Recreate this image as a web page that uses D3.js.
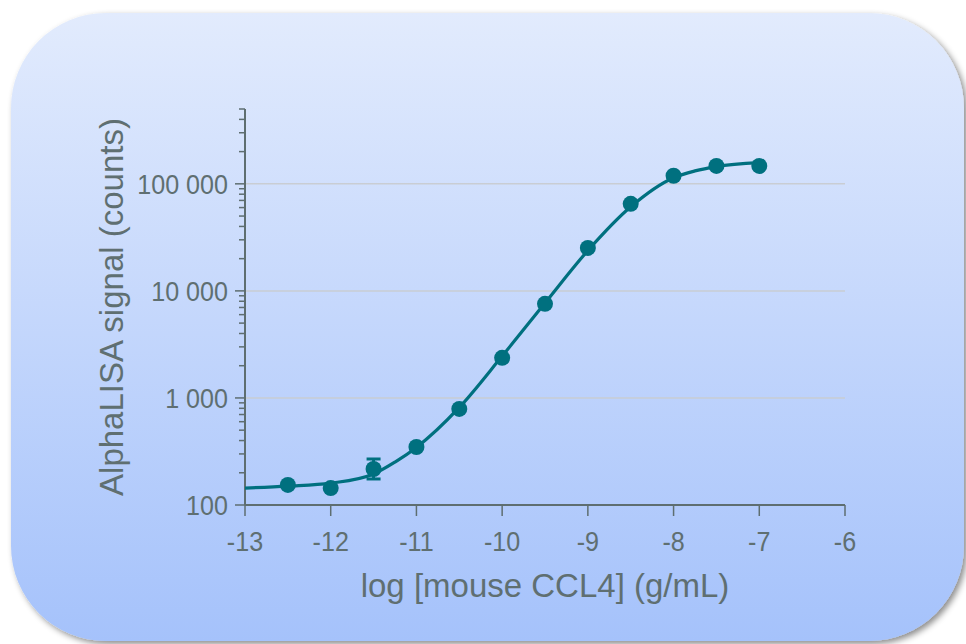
<!DOCTYPE html>
<html>
<head>
<meta charset="utf-8">
<script src="https://cdn.jsdelivr.net/npm/d3@7"></script>
<style>
  body { margin: 0; background: #fff; }
  svg { display: block; }
</style>
</head>
<body>
<div id="chart"></div>
<script>
// measured points (log conc, signal)
const logConc = [-12.5, -12, -11.5, -11, -10.5, -10, -9.5, -9, -8.5, -8, -7.5, -7];
const signal = [154, 144, 217, 348, 789, 2370, 7570, 25200, 65000, 119000, 147000, 147000];
// error bars (only visible at -11.5)
const errLow = [null, null, 175, null, null, null, null, null, null, null, null, null];
const errHigh = [null, null, 269, null, null, null, null, null, null, null, null, null];
// fitted curve
const curveX = [-13, -12.5, -12, -11.5, -11.25, -11, -10.5, -10, -9.5, -9, -8.5, -8, -7.75, -7.5, -7];
const curveY = [144, 150, 160, 195, 252, 345, 815, 2460, 7700, 23800, 61000, 114000, 132000, 145000, 158000];
const xTicks = [-13, -12, -11, -10, -9, -8, -7, -6];
const yMajor = [100, 1000, 10000, 100000];

const W = 966, H = 644;
const teal = "#00707f", axisCol = "#5e6e70", textCol = "#5f6f71";
const font = "Liberation Sans, Arial, sans-serif";

const svg = d3.select("#chart").append("svg").attr("width", W).attr("height", H);
const defs = svg.append("defs");
const grad = defs.append("linearGradient").attr("id", "bg").attr("x1", 0).attr("y1", 0).attr("x2", 0).attr("y2", 1);
grad.append("stop").attr("offset", "0%").attr("stop-color", "#e2ebfd");
grad.append("stop").attr("offset", "100%").attr("stop-color", "#a5c2fb");
const f = defs.append("filter").attr("id", "shadow").attr("x", "-5%").attr("y", "-5%").attr("width", "115%").attr("height", "115%");
f.append("feDropShadow").attr("dx", 3).attr("dy", 3).attr("stdDeviation", 3).attr("flood-color", "#000").attr("flood-opacity", 0.45);

svg.append("rect")
    .attr("x", 11).attr("y", 13).attr("width", 953).attr("height", 628)
    .attr("rx", 95).attr("ry", 95)
    .attr("fill", "url(#bg)")
    .attr("filter", "url(#shadow)");

const x = d3.scaleLinear().domain([-13, -6]).range([245, 845]);
const y = d3.scaleLog().domain([100, 500000]).range([505, 109]);

// gridlines
svg.append("g").selectAll("line").data(yMajor.slice(1)).join("line")
    .attr("x1", x(-13)).attr("x2", x(-6))
    .attr("y1", d => y(d)).attr("y2", d => y(d))
    .attr("stroke", "#c9cdd3").attr("stroke-width", 1.5);

// y axis: minor ticks
const minor = [];
for (let e = 2; e <= 5; e++) for (let m = 2; m <= 9; m++) { const v = m * Math.pow(10, e); if (v <= 500000) minor.push(v); }
const fmt = d => d3.format(",")(d).replace(/,/g, " ");

const yAxis = svg.append("g").attr("transform", `translate(${x(-13)},0)`);
yAxis.append("line").attr("x1", 0).attr("x2", 0).attr("y1", y(500000)).attr("y2", y(100))
    .attr("stroke", axisCol).attr("stroke-width", 2);
yAxis.selectAll(".mn").data(minor).join("line").attr("class", "mn")
    .attr("x1", -6).attr("x2", 0).attr("y1", d => y(d)).attr("y2", d => y(d))
    .attr("stroke", axisCol).attr("stroke-width", 1.5);
yAxis.selectAll(".mj").data(yMajor).join("line").attr("class", "mj")
    .attr("x1", -10).attr("x2", 0).attr("y1", d => y(d)).attr("y2", d => y(d))
    .attr("stroke", axisCol).attr("stroke-width", 1.5);
yAxis.selectAll("text").data(yMajor).join("text")
    .attr("transform", d => `translate(-17,${y(d)}) scale(0.93,1)`).attr("dy", "0.36em")
    .attr("text-anchor", "end")
    .attr("font-family", font).attr("font-size", 27)
    .attr("fill", textCol).text(fmt);

// x axis
const xAxis = svg.append("g").attr("transform", `translate(0,${y(100)})`);
xAxis.append("line").attr("x1", x(-13)).attr("x2", x(-6)).attr("stroke", axisCol).attr("stroke-width", 2);
xAxis.selectAll(".tk").data(xTicks).join("line").attr("class", "tk")
    .attr("x1", d => x(d)).attr("x2", d => x(d)).attr("y1", 0).attr("y2", 11)
    .attr("stroke", axisCol).attr("stroke-width", 1.5);
xAxis.selectAll("text").data(xTicks).join("text")
    .attr("transform", d => `translate(${x(d)},46) scale(0.93,1)`)
    .attr("text-anchor", "middle")
    .attr("font-family", font).attr("font-size", 27)
    .attr("fill", textCol).text(d => d);

// axis titles
svg.append("text")
    .attr("x", 545).attr("y", 597).attr("text-anchor", "middle")
    .attr("font-family", font).attr("font-size", 33)
    .attr("fill", textCol).text("log [mouse CCL4] (g/mL)");
svg.append("text")
    .attr("transform", "translate(123,307) rotate(-90)").attr("text-anchor", "middle")
    .attr("font-family", font).attr("font-size", 33)
    .attr("fill", textCol).text("AlphaLISA signal (counts)");

// fitted curve
const curveData = curveX.map((c, i) => ({ x: c, y: curveY[i] }));
svg.append("path").datum(curveData)
    .attr("fill", "none").attr("stroke", teal).attr("stroke-width", 3.2)
    .attr("d", d3.line().x(d => x(d.x)).y(d => y(d.y)).curve(d3.curveMonotoneX));

// error bars
const pts = logConc.map((c, i) => ({ x: c, y: signal[i], lo: errLow[i], hi: errHigh[i] }));
const eb = svg.append("g").selectAll("g").data(pts.filter(d => d.lo != null)).join("g")
    .attr("stroke", teal).attr("stroke-width", 3);
eb.append("line").attr("x1", d => x(d.x)).attr("x2", d => x(d.x)).attr("y1", d => y(d.lo)).attr("y2", d => y(d.hi));
eb.append("line").attr("x1", d => x(d.x) - 7).attr("x2", d => x(d.x) + 7).attr("y1", d => y(d.lo)).attr("y2", d => y(d.lo));
eb.append("line").attr("x1", d => x(d.x) - 7).attr("x2", d => x(d.x) + 7).attr("y1", d => y(d.hi)).attr("y2", d => y(d.hi));

// points
svg.append("g").selectAll("circle").data(pts).join("circle")
    .attr("cx", d => x(d.x)).attr("cy", d => y(d.y)).attr("r", 8)
    .attr("fill", teal);
</script>
</body>
</html>
